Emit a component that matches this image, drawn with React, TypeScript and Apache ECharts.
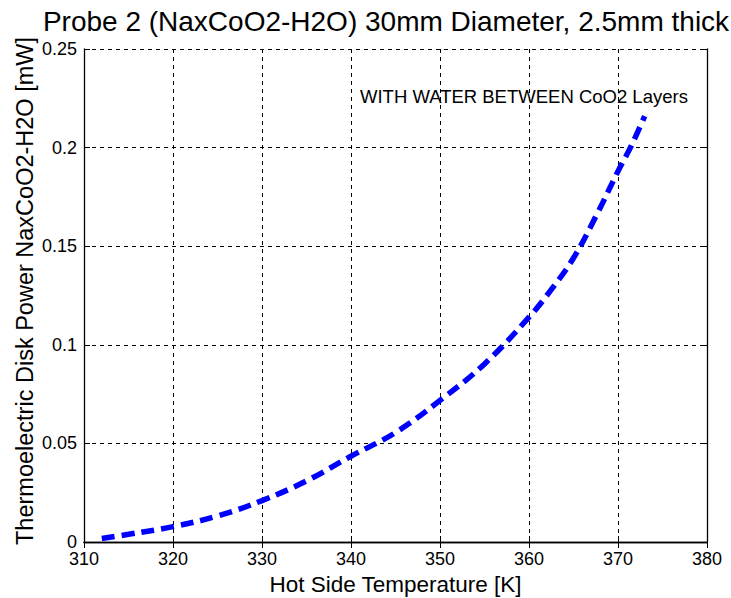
import React, { useEffect, useRef } from "react";
import * as echarts from "echarts";

const temperatures = [312, 315, 320, 325, 330, 335, 340, 345, 350, 355, 360, 362.5, 365, 367.5, 370, 371.5, 373];
const powers = [0.0018, 0.0039, 0.0078, 0.0132, 0.021, 0.031, 0.0435, 0.0555, 0.0718, 0.0903, 0.114, 0.128, 0.144, 0.165, 0.188, 0.201, 0.216];

const titleText = "Probe 2 (NaxCoO2-H2O) 30mm Diameter, 2.5mm thick";
const xName = "Hot Side Temperature [K]";
const yName = "Thermoelectric Disk Power NaxCoO2-H2O [mW]";
const note = "WITH WATER BETWEEN CoO2 Layers";

const FONT = "Arial, 'Liberation Sans', sans-serif";

export default function App() {
  const ref = useRef<HTMLDivElement>(null);
  useEffect(() => {
    if (!ref.current) return;
    const chart = echarts.init(ref.current, null, { renderer: "svg" });
    const data = temperatures.map((t, i) => [t, powers[i]]);
    const tickStyle = { inside: true, length: 6, lineStyle: { color: "#000", width: 1 } };
    const axisLine = { show: true, lineStyle: { color: "#000", width: 1.3 } };
    const split = { show: true, lineStyle: { color: "#000", width: 1, type: [4, 4] as any } };
    chart.setOption({
      animation: false,
      backgroundColor: "#fff",
      grid: { left: 84, right: 24, top: 49, bottom: 56, containLabel: false, outerBoundsMode: "none" },
      graphic: [
        {
          type: "text",
          x: 386,
          y: 21,
          style: { text: titleText, font: `28px ${FONT}`, fill: "#000", textAlign: "center", textVerticalAlign: "middle" },
        },
        {
          type: "text",
          x: 360,
          y: 96,
          style: { text: note, font: `18.5px ${FONT}`, fill: "#000", textAlign: "left", textVerticalAlign: "middle" },
        },
        {
          type: "text",
          x: 25,
          y: 291,
          rotation: Math.PI / 2,
          style: { text: yName, font: `23.5px ${FONT}`, fill: "#000", textAlign: "center", textVerticalAlign: "middle" },
        },
      ],
      xAxis: [
        {
          type: "value",
          min: 310,
          max: 380,
          interval: 10,
          name: xName,
          nameLocation: "middle",
          nameGap: 27,
          nameTextStyle: { fontFamily: FONT, fontSize: 22.5, color: "#000" },
          axisLine,
          axisTick: tickStyle,
          axisLabel: { fontFamily: FONT, fontSize: 18, color: "#000", margin: 9, lineHeight: 16 },
          splitLine: split,
        },
        {
          type: "value",
          position: "top",
          min: 310,
          max: 380,
          interval: 10,
          axisLine,
          axisTick: tickStyle,
          axisLabel: { show: false },
          splitLine: { show: false },
        },
      ],
      yAxis: [
        {
          type: "value",
          min: 0,
          max: 0.25,
          interval: 0.05,
          axisLine,
          axisTick: tickStyle,
          axisLabel: { fontFamily: FONT, fontSize: 18, color: "#000", margin: 7, lineHeight: 14 },
          splitLine: split,
        },
        {
          type: "value",
          position: "right",
          min: 0,
          max: 0.25,
          interval: 0.05,
          axisLine,
          axisTick: tickStyle,
          axisLabel: { show: false },
          splitLine: { show: false },
        },
      ],
      series: [
        {
          type: "line",
          data,
          smooth: 0.4,
          showSymbol: false,
          symbol: "none",
          lineStyle: { color: "#0000ff", width: 5.5, type: [13, 7] as any, cap: "butt" },
        },
      ],
    });
    return () => chart.dispose();
  }, []);
  return <div ref={ref} style={{ position: "absolute", left: 0, top: 0, width: 731, height: 598 }} />;
}
